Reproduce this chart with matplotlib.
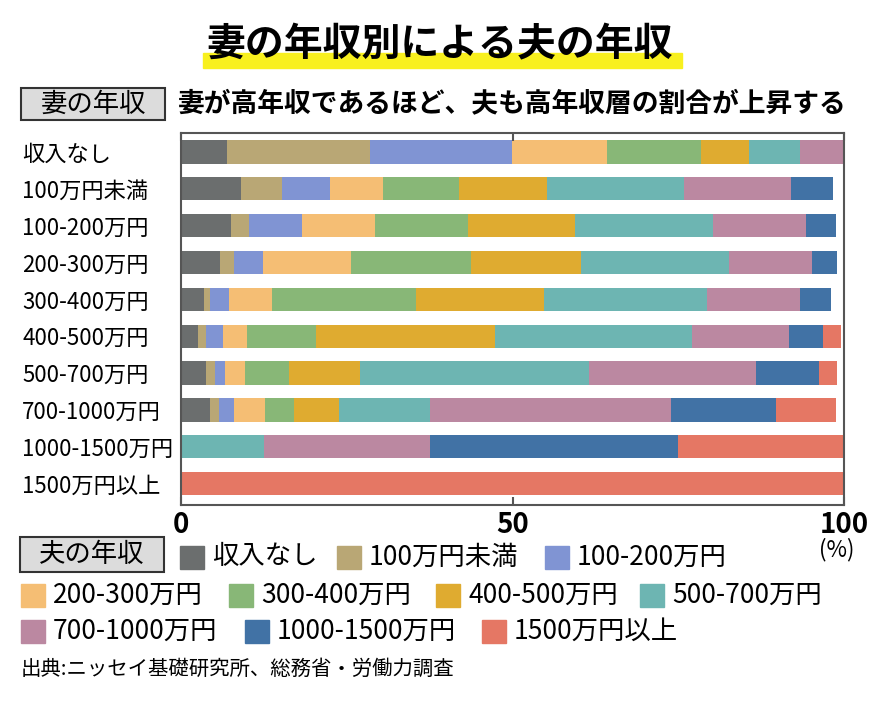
# Stacked bar chart: husband's income by wife's income bracket

import matplotlib.pyplot as plt
from matplotlib.patches import Rectangle

plt.rcParams['font.family'] = ['Noto Sans CJK JP', 'DejaVu Sans']

# wife's income brackets (rows, top to bottom)
wife_income = ["収入なし", "100万円未満", "100-200万円", "200-300万円", "300-400万円",
               "400-500万円", "500-700万円", "700-1000万円", "1000-1500万円", "1500万円以上"]

# husband's income brackets (stack order)
husband_income = ["収入なし", "100万円未満", "100-200万円", "200-300万円", "300-400万円",
                  "400-500万円", "500-700万円", "700-1000万円", "1000-1500万円", "1500万円以上"]

# share (%) of each husband bracket, one value per wife bracket
h_none = [7.0, 9.0, 7.5, 5.9, 3.4, 2.6, 3.7, 4.4, 0, 0]
h_u100 = [21.5, 6.3, 2.8, 2.1, 1.0, 1.1, 1.5, 1.3, 0, 0]
h_100_200 = [21.4, 7.1, 7.9, 4.4, 2.9, 2.7, 1.5, 2.3, 0, 0]
h_200_300 = [14.3, 8.0, 11.0, 13.2, 6.4, 3.5, 3.0, 4.6, 0, 0]
h_300_400 = [14.2, 11.5, 14.1, 18.1, 21.7, 10.4, 6.6, 4.4, 0, 0]
h_400_500 = [7.2, 13.3, 16.1, 16.7, 19.3, 27.0, 10.7, 6.9, 0, 0]
h_500_700 = [7.7, 20.7, 20.8, 22.3, 24.6, 29.7, 34.6, 13.6, 12.5, 0]
h_700_1000 = [6.5, 16.1, 14.1, 12.4, 14.0, 14.7, 25.1, 36.4, 25.0, 0]
h_1000_1500 = [0, 6.3, 4.5, 3.8, 4.7, 5.2, 9.5, 15.9, 37.5, 0]
h_1500_up = [0, 0, 0, 0, 0, 2.6, 2.8, 9.0, 25.0, 100]

series = [h_none, h_u100, h_100_200, h_200_300, h_300_400,
          h_400_500, h_500_700, h_700_1000, h_1000_1500, h_1500_up]

colors = ["#6b6e6e", "#b9a775", "#8094d3", "#f5be74", "#88b777",
          "#dfab30", "#6db5b2", "#bb88a1", "#4172a5", "#e57764"]

W, H = 880, 702


def fx(x):
    return x / W


def fy(y):
    return 1 - y / H


fig = plt.figure(figsize=(8.8, 7.02), dpi=100)
ax = fig.add_axes([fx(181), fy(505), fx(844) - fx(181), fy(133) - fy(505)])

# stacked bars
rows = list(range(len(wife_income)))
left = [0] * len(rows)
for vals, col in zip(series, colors):
    ax.barh(rows, vals, left=left, height=0.63, color=col, linewidth=0)
    left = [a + b for a, b in zip(left, vals)]

ax.set_xlim(0, 100)
ax.set_ylim(9.58, -0.515)

# frame
for sp in ax.spines.values():
    sp.set_color("#555555")
    sp.set_linewidth(1.5)

# x ticks inside, top and bottom
ax.set_xticks([0, 50, 100])
ax.set_xticklabels(["0", "50", "100"], fontsize=20, fontweight="bold")
ax.tick_params(axis="x", direction="in", top=True, length=6, width=1.5,
               color="#555555", pad=4)

# y labels, left aligned at the figure edge
ax.set_yticks(rows)
ax.set_yticklabels(wife_income, fontsize=16)
ax.tick_params(axis="y", length=0, pad=(181 - 22) * 0.72)
for lab in ax.get_yticklabels():
    lab.set_horizontalalignment("left")

# title with yellow marker
fig.add_artist(Rectangle((fx(203), fy(68)), fx(682) - fx(203), fy(53) - fy(68),
                         transform=fig.transFigure, color="#f8f01e", zorder=0))
fig.text(fx(440), fy(45), "妻の年収別による夫の年収", fontsize=28, fontweight="bold",
         ha="center", va="center", zorder=2)


def label_box(x0, y0, x1, y1, text):
    fig.add_artist(Rectangle((fx(x0), fy(y1)), fx(x1) - fx(x0), fy(y0) - fy(y1),
                             transform=fig.transFigure, facecolor="#dcdcdc",
                             edgecolor="#333333", linewidth=1.5))
    fig.text(fx((x0 + x1) / 2), fy((y0 + y1) / 2), text, fontsize=19,
             ha="center", va="center")


# subtitle
label_box(21, 88, 165, 120, "妻の年収")
fig.text(fx(178), fy(103), "妻が高年収であるほど、夫も高年収層の割合が上昇する",
         fontsize=19.3, fontweight="bold", ha="left", va="center")

# unit
fig.text(fx(837), fy(550), "(%)", fontsize=16, ha="center", va="center")

# legend
label_box(20, 537, 164, 572, "夫の年収")
legend_pos = [(180, 557), (337, 557), (545, 557),
              (21, 595), (229, 595), (436, 595), (640, 595),
              (21, 631), (245, 631), (482, 631)]
for (x, y), name, col in zip(legend_pos, husband_income, colors):
    fig.add_artist(Rectangle((fx(x), fy(y + 12)), fx(24), 23 / H,
                             transform=fig.transFigure, color=col))
    fig.text(fx(x + 32), fy(y), name, fontsize=19, ha="left", va="center")

# source
fig.text(fx(21), fy(669), "出典:ニッセイ基礎研究所、総務省・労働力調査",
         fontsize=14.7, ha="left", va="center")

plt.savefig("out.png", dpi=100)
